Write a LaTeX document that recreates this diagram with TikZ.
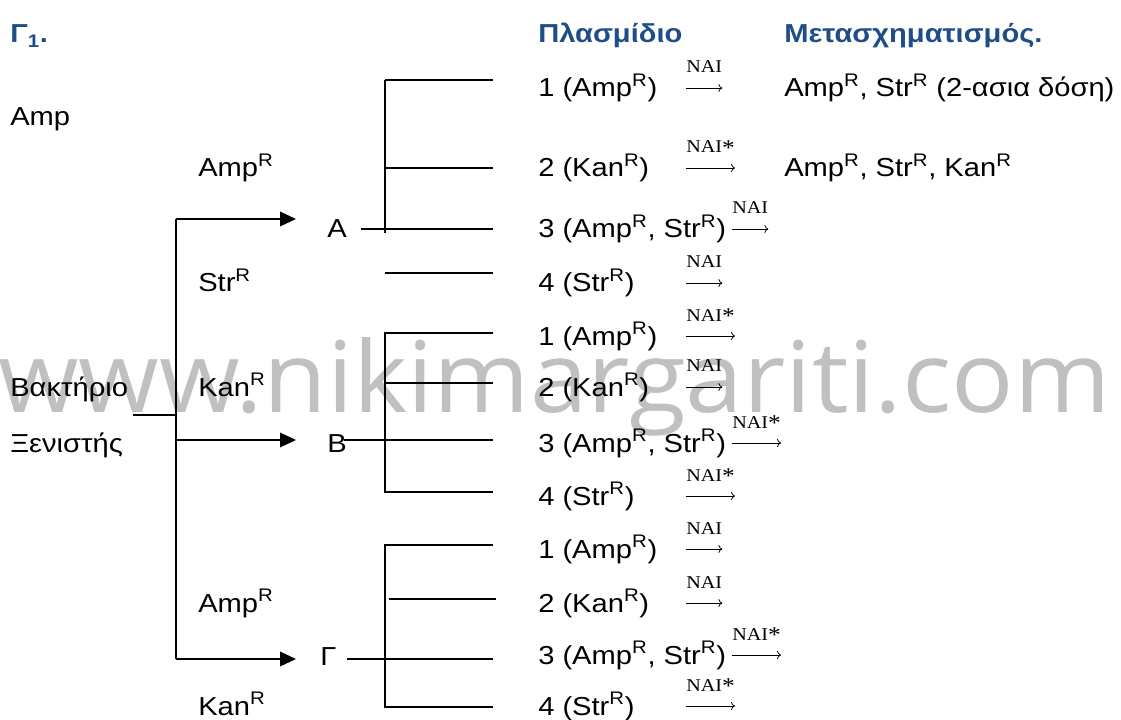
\documentclass[tikz,border=0pt]{standalone}
\usepackage{fontspec}
\setmainfont{Liberation Sans}[FakeStretch=1.12]
\newfontfamily\labfont{Liberation Serif}[FakeStretch=1.12]
\newfontfamily\wmfont{Open Sans}[FakeStretch=1.05]
\usetikzlibrary{arrows.meta,calc}
\definecolor{titleblue}{HTML}{1F4E87}
\definecolor{wmgray}{HTML}{C0C0C0}
\newcommand\supR{\textsuperscript{R}}
\newcommand\naistar{\raisebox{-0.12em}{\fontsize{17}{17}\selectfont *}}
\tikzset{
  txt/.style={inner sep=0pt, anchor=base west, font=\fontsize{19.5}{23}\selectfont},
  ttl/.style={inner sep=0pt, anchor=base west, font=\fontsize{19.5}{23}\selectfont\bfseries, text=titleblue},
  lab/.style={inner sep=0pt, anchor=base west, font=\labfont\fontsize{13.5}{16}\selectfont},
  tree/.style={line width=1pt},
  branch/.style={tree, -{Triangle[length=12pt,width=11pt]}},
  naiarrow/.style={line width=0.55pt, -{To[length=3pt,width=6pt]}}
}
\newcommand\naiat[4]{% name, x, row baseline, text
  \node[lab] (#1) at (#2,#3-24) {#4};
  \draw[naiarrow] ($(#1.base west)+(0,15)$) -- ($(#1.base east)+(0,15)$);}
\begin{document}
\begin{tikzpicture}[x=0.75pt,y=-0.75pt]
\useasboundingbox (0,0) rectangle (1121,720);
% watermark
\node[anchor=base west, inner sep=0pt, text=wmgray, font=\wmfont\fontsize{74}{80}\selectfont] (wm) at (-2,412) {www.nikimargariti.com};
% titles
\node[ttl] (g1) at (10,43) {Γ\textsubscript{1}.};
\node[ttl] (plas) at (538,43) {Πλασμίδιο};
\node[ttl] (meta) at (784,43) {Μετασχηματισμός.};
% left labels
\node[txt] (amp) at (10,126) {Amp};
\node[txt] (bakt) at (10,396) {Βακτήριο};
\node[txt] (xen) at (10,452) {Ξενιστής};
\node[txt] (lAmpA) at (198,177) {Amp\supR};
\node[txt] (lStrA) at (198,292) {Str\supR};
\node[txt] (lKanB) at (198,396) {Kan\supR};
\node[txt] (lAmpG) at (198,612) {Amp\supR};
\node[txt] (lKanG) at (198,715) {Kan\supR};
% hosts
\node[txt] (A) at (327,238) {A};
\node[txt] (B) at (327,452) {B};
\node[txt] (G) at (320,665) {Γ};
% main tree
\coordinate (root) at (133,415);
\coordinate (trunk) at (176,415);
\coordinate (tA) at (176,219);
\coordinate (tB) at (176,440);
\coordinate (tG) at (176,659);
\coordinate (pA) at (296,219);
\coordinate (pB) at (296,440);
\coordinate (pG) at (296,659);
\draw[tree] (root) -- (trunk);
\draw[tree] (tA) -- (tG);
\draw[branch] (tA) -- (pA);
\draw[branch] (tB) -- (pB);
\draw[branch] (tG) -- (pG);
% subtree A
\coordinate (a0) at (361,229);
\coordinate (av1) at (385,80);
\coordinate (av2) at (385,233);
\coordinate (ae1) at (493,80);
\coordinate (ab2) at (385,168);
\coordinate (ae2) at (493,168);
\coordinate (ae3) at (493,229);
\coordinate (ab4) at (385,273);
\coordinate (ae4) at (493,273);
\draw[tree] (av1) -- (av2);
\draw[tree] (av1) -- (ae1);
\draw[tree] (ab2) -- (ae2);
\draw[tree] (a0) -- (ae3);
\draw[tree] (ab4) -- (ae4);
% subtree B
\coordinate (b0) at (344,440);
\coordinate (bv1) at (385,333);
\coordinate (bv2) at (385,492);
\coordinate (be1) at (493,333);
\coordinate (bb2) at (385,383);
\coordinate (be2) at (493,383);
\coordinate (be3) at (493,440);
\coordinate (be4) at (493,492);
\draw[tree] (be1) -- (bv1) -- (bv2) -- (be4);
\draw[tree] (bb2) -- (be2);
\draw[tree] (b0) -- (be3);
% subtree Gamma
\coordinate (c0) at (347,659);
\coordinate (cv1) at (385,545);
\coordinate (cv2) at (385,707);
\coordinate (ce1) at (493,545);
\coordinate (cb2) at (389,599);
\coordinate (ce2) at (496,599);
\coordinate (ce3) at (493,659);
\coordinate (ce4) at (493,707);
\draw[tree] (ce1) -- (cv1) -- (cv2) -- (ce4);
\draw[tree] (cb2) -- (ce2);
\draw[tree] (c0) -- (ce3);
% plasmid rows
\node[txt] (rA1) at (538,97) {1 (Amp\supR)};
\node[txt] (rA2) at (538,177) {2 (Kan\supR)};
\node[txt] (rA3) at (538,238) {3 (Amp\supR, Str\supR)};
\node[txt] (rA4) at (538,292) {4 (Str\supR)};
\node[txt] (rB1) at (538,345) {1 (Amp\supR)};
\node[txt] (rB2) at (538,396) {2 (Kan\supR)};
\node[txt] (rB3) at (538,452) {3 (Amp\supR, Str\supR)};
\node[txt] (rB4) at (538,505) {4 (Str\supR)};
\node[txt] (rG1) at (538,558) {1 (Amp\supR)};
\node[txt] (rG2) at (538,612) {2 (Kan\supR)};
\node[txt] (rG3) at (538,664) {3 (Amp\supR, Str\supR)};
\node[txt] (rG4) at (538,715) {4 (Str\supR)};
% NAI arrows
\naiat{nA1}{686}{97}{NAI}
\naiat{nA2}{686}{177}{NAI\naistar}
\naiat{nA3}{732}{238}{NAI}
\naiat{nA4}{686}{292}{NAI}
\naiat{nB1}{686}{345}{NAI\naistar}
\naiat{nB2}{686}{396}{NAI}
\naiat{nB3}{732}{452}{NAI\naistar}
\naiat{nB4}{686}{505}{NAI\naistar}
\naiat{nG1}{686}{558}{NAI}
\naiat{nG2}{686}{612}{NAI}
\naiat{nG3}{732}{664}{NAI\naistar}
\naiat{nG4}{686}{715}{NAI\naistar}
% results
\node[txt] (res1) at (784,97) {Amp\supR, Str\supR{} (2-ασια δόση)};
\node[txt] (res2) at (784,177) {Amp\supR, Str\supR, Kan\supR};
\end{tikzpicture}
\end{document}
